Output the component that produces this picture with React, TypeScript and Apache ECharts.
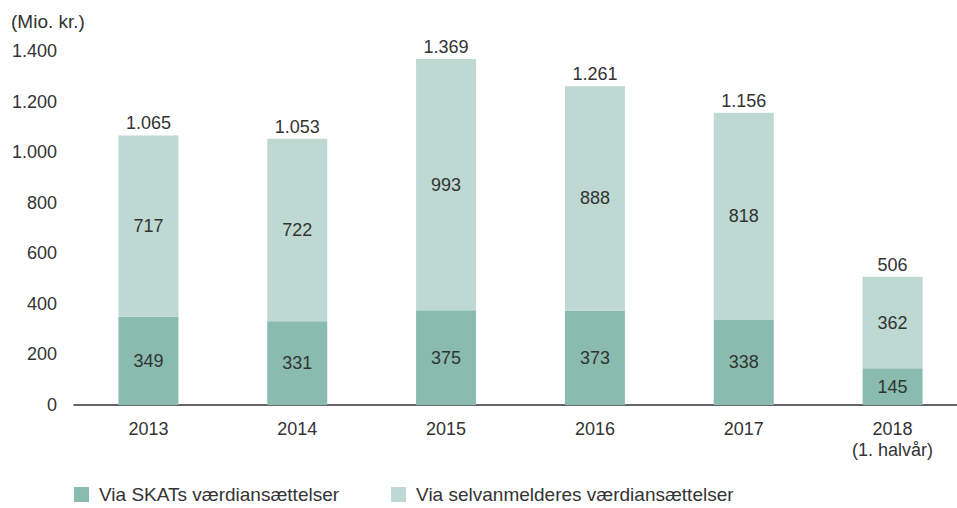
import React, { useEffect, useRef } from "react";
import * as echarts from "echarts";

const categories = ["2013", "2014", "2015", "2016", "2017", "2018\n(1. halvår)"];
const skatValues = [349, 331, 375, 373, 338, 145];
const selvValues = [717, 722, 993, 888, 818, 362];
const totals = [1065, 1053, 1369, 1261, 1156, 506];
const seriesNames = ["Via SKATs værdiansættelser", "Via selvanmelderes værdiansættelser"];
const unitLabel = "(Mio. kr.)";

const fmt = (n: number) => String(n).replace(/\B(?=(\d{3})+(?!\d))/g, ".");

const FONT = "'Liberation Sans', Arial, Helvetica, sans-serif";
const TEXT = "#333333";
const DARK = "#89bcae";
const LIGHT = "#bed9d1";
const FS = 18;
const FS_TXT = 19;

export default function App() {
  const ref = useRef<HTMLDivElement>(null);
  useEffect(() => {
    if (!ref.current) return;
    const chart = echarts.init(ref.current, undefined, { renderer: "svg" });
    chart.setOption({
      animation: false,
      textStyle: { fontFamily: FONT, color: TEXT },
      title: {
        text: unitLabel,
        left: 6,
        top: 7,
        textStyle: { fontFamily: FONT, fontSize: FS_TXT, fontWeight: "normal", color: TEXT },
      },
      legend: {
        data: seriesNames,
        left: 69,
        bottom: -1,
        itemWidth: 15,
        itemHeight: 15,
        itemGap: 52,
        icon: "rect",
        textStyle: { fontFamily: FONT, fontSize: FS_TXT, color: TEXT, padding: [0, 0, 0, 5] },
      },
      grid: { left: 74, top: 51, right: 3, bottom: 103, containLabel: false },
      xAxis: {
        type: "category",
        data: categories,
        axisLine: { show: true, lineStyle: { color: "#333", width: 1.5 } },
        axisTick: { show: false },
        axisLabel: { fontFamily: FONT, fontSize: FS, color: TEXT, margin: 13, lineHeight: 21 },
      },
      yAxis: {
        type: "value",
        min: 0,
        max: 1400,
        interval: 200,
        axisLine: { show: false },
        axisTick: { show: false },
        splitLine: { show: false },
        axisLabel: {
          fontFamily: FONT,
          fontSize: FS,
          color: TEXT,
          margin: 17,
          formatter: (v: number) => fmt(v),
        },
      },
      series: [
        {
          name: seriesNames[0],
          type: "bar",
          stack: "t",
          barWidth: 60,
          data: skatValues,
          itemStyle: { color: DARK },
          label: {
            show: true,
            position: "inside",
            fontFamily: FONT,
            fontSize: FS,
            color: TEXT,
            formatter: (p: any) => fmt(p.value),
          },
        },
        {
          name: seriesNames[1],
          type: "bar",
          stack: "t",
          barWidth: 60,
          data: selvValues,
          itemStyle: { color: LIGHT },
          label: {
            show: true,
            position: "inside",
            fontFamily: FONT,
            fontSize: FS,
            color: TEXT,
            formatter: (p: any) => fmt(p.value),
          },
        },
        {
          name: "total",
          type: "bar",
          stack: "t",
          barWidth: 60,
          data: totals.map(() => 0),
          itemStyle: { color: "transparent" },
          label: {
            show: true,
            position: "top",
            distance: 3,
            fontFamily: FONT,
            fontSize: FS,
            color: TEXT,
            formatter: (p: any) => fmt(totals[p.dataIndex]),
          },
        },
      ],
    });
    return () => chart.dispose();
  }, []);
  return (
    <div
      ref={ref}
      style={{ position: "fixed", left: 0, top: 0, width: 970, height: 508, background: "#fff" }}
    />
  );
}
